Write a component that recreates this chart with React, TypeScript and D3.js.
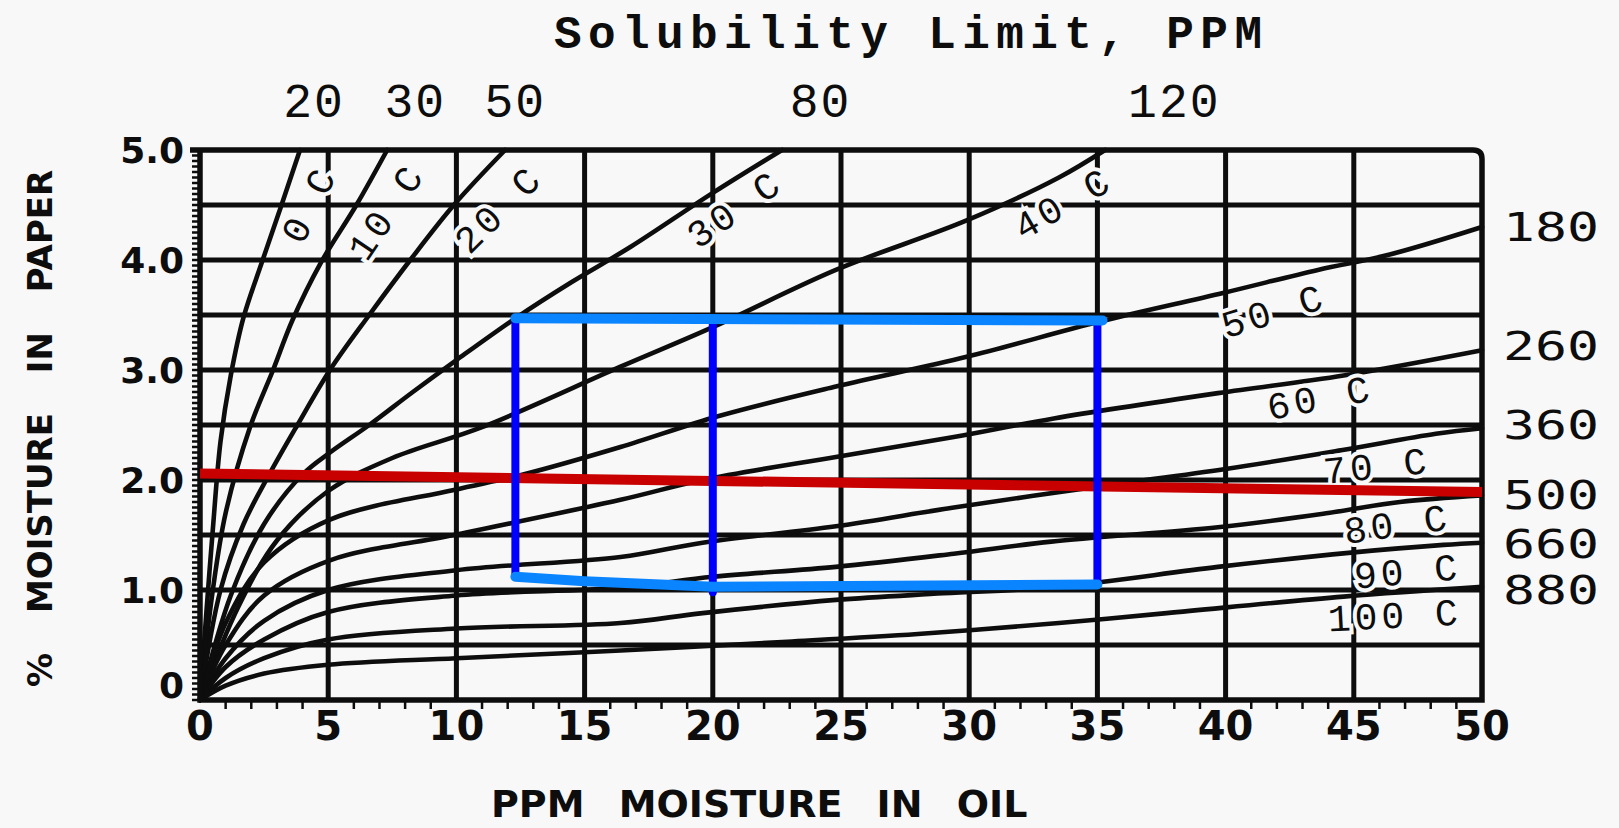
import React from 'react';
import * as d3 from 'd3';

type P = [number, number];

// ---- data (ppm moisture in oil, % moisture in paper) ----
const temps = ['0 C', '10 C', '20 C', '30 C', '40 C', '50 C', '60 C', '70 C', '80 C', '90 C', '100 C'];

const curve0: P[] = [[0, 0], [0.25, 0.8], [0.5, 1.55], [0.8, 2.35], [1.2, 2.95], [1.7, 3.48], [2.4, 3.97], [3.15, 4.48], [3.9, 5.0]];
const curve10: P[] = [[0, 0], [0.5, 1.0], [1.0, 1.7], [1.95, 2.48], [2.85, 3.0], [3.6, 3.45], [4.7, 3.97], [6.1, 4.5], [7.3, 5.0]];
const curve20: P[] = [[0, 0], [0.8, 1.0], [1.7, 1.6], [2.7, 2.05], [3.8, 2.5], [5.07, 3.0], [6.6, 3.5], [8.2, 4.0], [9.9, 4.5], [11.9, 5.0]];
const curve30: P[] = [[0, 0], [1.2, 0.95], [2.5, 1.6], [4.0, 2.05], [5.07, 2.25], [6.6, 2.5], [8.3, 2.8], [10.0, 3.09], [12.3, 3.47], [14.5, 3.8], [16.8, 4.12], [20.0, 4.61], [22.7, 5.0]];
const curve40: P[] = [[0, 0], [1.5, 0.85], [3, 1.45], [5, 1.9], [7.5, 2.2], [11, 2.48], [16.4, 3.03], [20, 3.39], [24.8, 3.91], [29.9, 4.36], [33.5, 4.75], [35.3, 5.0]];
const curve50: P[] = [[0, 0], [1, 0.7], [2.5, 1.25], [5.07, 1.64], [9.9, 1.91], [12.6, 2.05], [16.4, 2.3], [20.2, 2.58], [24.8, 2.85], [29.9, 3.12], [35.1, 3.44], [39.9, 3.7], [43.6, 3.91], [46.4, 4.05], [50, 4.3]];
const curve60: P[] = [[0, 0], [1, 0.5], [2.5, 0.95], [5.07, 1.27], [9.9, 1.5], [16.4, 1.82], [19.6, 2.0], [24.8, 2.21], [29.4, 2.39], [33.3, 2.56], [39.7, 2.79], [44.6, 2.95], [50, 3.18]];
const curve70: P[] = [[0, 0], [1, 0.38], [2.5, 0.72], [5, 1.0], [10, 1.18], [16.4, 1.3], [19.6, 1.43], [24.8, 1.58], [29.4, 1.75], [35, 1.94], [40, 2.1], [44.5, 2.27], [48.2, 2.42], [50, 2.47]];
const curve80: P[] = [[0, 0], [1, 0.3], [2.5, 0.55], [5, 0.8], [10, 0.95], [16.4, 1.02], [20, 1.12], [24.8, 1.21], [29.4, 1.33], [33.2, 1.44], [39.7, 1.57], [44, 1.7], [46.8, 1.8], [50, 1.86]];
const curve90: P[] = [[0, 0], [1, 0.2], [2.5, 0.38], [5, 0.55], [10, 0.65], [16.4, 0.7], [19.6, 0.79], [24.8, 0.91], [29, 0.97], [33.5, 1.03], [39.7, 1.21], [44.9, 1.34], [48.5, 1.41], [50, 1.43]];
const curve100: P[] = [[0, 0], [1, 0.13], [2.5, 0.24], [5, 0.32], [10, 0.38], [16.4, 0.45], [22.9, 0.53], [28, 0.6], [33.5, 0.7], [37.7, 0.79], [44.6, 0.94], [50, 1.03]];

const curves: P[][] = [curve0, curve10, curve20, curve30, curve40, curve50, curve60, curve70, curve80, curve90, curve100];

// curve label anchors: [ppm, %, angle]
const curveLabelAt: [number, number, number][] = [
  [4.33, 4.5, -64], [7.33, 4.43, -56], [11.7, 4.45, -45], [20.9, 4.45, -35], [33.7, 4.5, -30],
  [41.9, 3.52, -17], [43.7, 2.73, -11], [45.9, 2.11, -6], [46.7, 1.58, -8], [47.1, 1.15, -5], [46.6, 0.75, -3],
];

// solubility limit labels
const topLabels = ['20', '30', '50', '80', '120'];
const topLabelPpm = [4.45, 8.4, 12.3, 24.2, 38.0];
const rightLabels = ['180', '260', '360', '500', '660', '880'];
const rightLabelPct = [4.3, 3.22, 2.5, 1.86, 1.42, 1.0];

const xTicks = [0, 5, 10, 15, 20, 25, 30, 35, 40, 45, 50];
const yTicks = [0, 1, 2, 3, 4, 5];
const yTickLabels = ['0', '1.0', '2.0', '3.0', '4.0', '5.0'];
const yGrid = [0.5, 1, 1.5, 2, 2.5, 3, 3.5, 4, 4.5];
const xGrid = [5, 10, 15, 20, 25, 30, 35, 40, 45];

// annotations drawn over the chart
const redLine: P[] = [[0, 2.06], [50, 1.89]];
const blueTop: P[] = [[12.3, 3.47], [35.2, 3.45]];
const blueBottom: P[] = [[12.3, 1.12], [15, 1.08], [20, 1.03], [35, 1.05]];
const blueVerticals: [number, number, number][] = [[12.3, 3.47, 1.12], [20, 3.45, 0.98], [35, 3.45, 1.05]];

const W = 1619, H = 828;
const BG = '#f8f8f8';
const INK = '#0d0d0d';

export default function App() {
  const x = d3.scaleLinear().domain([0, 50]).range([200, 1482]);
  const y = d3.scaleLinear().domain([0, 5]).range([700, 150]);
  const line = d3.line<P>().x(d => x(d[0])).y(d => y(d[1])).curve(d3.curveCatmullRom.alpha(0.5));
  const straight = d3.line<P>().x(d => x(d[0])).y(d => y(d[1]));

  const r = 9;
  const frame = `M${x(0) - 10},${y(5)} H${x(50) - r} Q${x(50)},${y(5)} ${x(50)},${y(5) + r} V${y(0)} H${x(0)} V${y(5)}`;

  const minorX = d3.range(0, 51, 1).filter(v => v % 5 !== 0);
  const minorY = d3.range(0, 101, 1).map(v => v * 0.05);

  const mono = '"Liberation Mono", "DejaVu Sans Mono", monospace';
  const monoTall = '"DejaVu Sans Mono", "Liberation Mono", monospace';
  const bold = '"DejaVu Sans", "Liberation Sans", sans-serif';

  return (
    <svg width={W} height={H} viewBox={`0 0 ${W} ${H}`} style={{ position: 'fixed', left: 0, top: 0 }}>
      <rect width={W} height={H} fill={BG} />

      {/* grid */}
      <g stroke={INK} strokeWidth={5}>
        {xGrid.map(v => <line key={'gx' + v} x1={x(v)} x2={x(v)} y1={y(5)} y2={y(0)} />)}
        {yGrid.map(v => <line key={'gy' + v} x1={x(0)} x2={x(50)} y1={y(v)} y2={y(v)} />)}
      </g>

      {/* minor ticks */}
      <g stroke={INK} strokeWidth={2.5}>
        {minorX.map(v => <line key={'mx' + v} x1={x(v)} x2={x(v)} y1={y(0)} y2={y(0) + 9} />)}
        {minorY.map((v, i) => <line key={'my' + i} x1={x(0) - 8} x2={x(0)} y1={y(v)} y2={y(v)} />)}
      </g>

      {/* curves */}
      <g fill="none" stroke={INK} strokeWidth={4.6} strokeLinecap="round">
        {curves.map((c, i) => <path key={'c' + i} d={line(c) || ''} />)}
      </g>

      {/* frame */}
      <path d={frame} fill="none" stroke={INK} strokeWidth={5.5} />

      {/* curve labels */}
      <g fontFamily={mono} fontSize={38} fill={INK} stroke={BG} strokeWidth={8} paintOrder="stroke" letterSpacing={4}>
        {temps.map((t, i) => {
          const [px, py, a] = curveLabelAt[i];
          const cx = x(px), cy = y(py);
          return (
            <text key={'t' + i} x={cx} y={cy} textAnchor="middle" dominantBaseline="central"
              transform={`rotate(${a},${cx},${cy})`}>{t}</text>
          );
        })}
      </g>

      {/* title */}
      <text x={554} y={48} fontFamily={mono} fontWeight="bold" fontSize={46} fill={INK}
        textLength={708} lengthAdjust="spacing">Solubility Limit, PPM</text>

      {/* top solubility labels */}
      <g fontFamily={mono} fontSize={48} fill={INK} textAnchor="middle" letterSpacing={2}>
        {topLabels.map((t, i) => <text key={'tl' + i} x={x(topLabelPpm[i])} y={117}>{t}</text>)}
      </g>

      {/* right solubility labels */}
      <g fontFamily={monoTall} fontSize={39} fill={INK}>
        {rightLabels.map((t, i) => (
          <text key={'rl' + i} x={1503} y={y(rightLabelPct[i]) + 14} textLength={96} lengthAdjust="spacingAndGlyphs">{t}</text>
        ))}
      </g>

      {/* y tick labels */}
      <g fontFamily={bold} fontWeight="bold" fontSize={36} fill={INK} textAnchor="end">
        {yTicks.map((v, i) => (
          <text key={'yl' + v} x={184} y={v === 0 ? y(v) - 2 : y(v) + 13}>{yTickLabels[i]}</text>
        ))}
      </g>

      {/* x tick labels */}
      <g fontFamily={bold} fontWeight="bold" fontSize={40} fill={INK} textAnchor="middle">
        {xTicks.map(v => <text key={'xl' + v} x={x(v)} y={740}>{v}</text>)}
      </g>

      {/* axis titles */}
      <text x={491} y={817} fontFamily={bold} fontWeight="bold" fontSize={38} fill={INK} wordSpacing={21}>PPM MOISTURE IN OIL</text>
      <text x={52} y={687} fontFamily={bold} fontWeight="bold" fontSize={34} fill={INK} wordSpacing={28}
        transform="rotate(-90,52,687)">% MOISTURE IN PAPER</text>

      {/* annotations */}
      <path d={straight(redLine) || ''} stroke="#c80000" strokeWidth={10} fill="none" />
      <g stroke="#0000ff" strokeWidth={8} strokeLinecap="round">
        {blueVerticals.map((b, i) => <line key={'bv' + i} x1={x(b[0])} x2={x(b[0])} y1={y(b[1])} y2={y(b[2])} />)}
      </g>
      <g stroke="#0a84ff" strokeWidth={10} fill="none" strokeLinecap="round" strokeLinejoin="round">
        <path d={straight(blueTop) || ''} />
        <path d={straight(blueBottom) || ''} />
      </g>
    </svg>
  );
}
